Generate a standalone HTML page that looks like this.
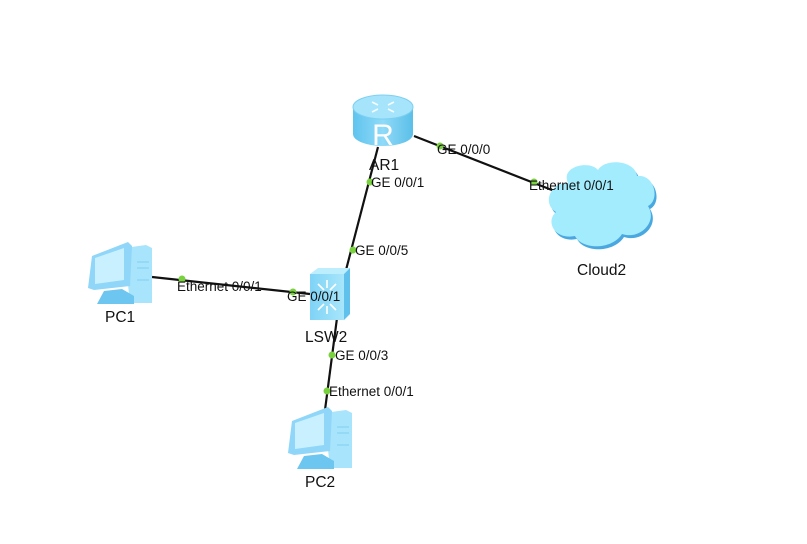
<!DOCTYPE html>
<html><head><meta charset="utf-8"><style>
html,body{margin:0;padding:0;background:#fff;}
svg{display:block}
text{font-family:"Liberation Sans",Arial,sans-serif;fill:#111;}
</style></head><body>
<svg width="807" height="544" viewBox="0 0 807 544" xmlns="http://www.w3.org/2000/svg">
<defs>
<linearGradient id="cyl" x1="0" x2="1"><stop offset="0" stop-color="#5fc4ee"/><stop offset="0.5" stop-color="#8fdaf8"/><stop offset="1" stop-color="#5bbfe8"/></linearGradient>
<linearGradient id="sw" x1="0" x2="1"><stop offset="0" stop-color="#7fd3f6"/><stop offset="1" stop-color="#a8e6fb"/></linearGradient>
</defs>
<g stroke="#111" stroke-width="2.2" fill="none">
<line x1="378" y1="147" x2="346" y2="270"/>
<line x1="414" y1="136" x2="557" y2="192"/>
<line x1="152" y1="277" x2="310" y2="294"/>
<line x1="337" y1="318" x2="325" y2="410"/>
</g>
<g>
<path d="M353 107 L353 134 A30 12 0 0 0 413 134 L413 107 Z" fill="url(#cyl)"/>
<ellipse cx="383" cy="107" rx="30" ry="12" fill="#a6e4fb" stroke="#7bd0f2"/>
<g stroke="#fff" stroke-width="1.6" fill="none" opacity="0.9">
<path d="M372 102 l6 3 M394 102 l-6 3 M372 112 l6 -3 M394 112 l-6 -3"/>
</g>
<text x="383" y="145" font-size="30" text-anchor="middle" style="fill:#fff">R</text>
</g>
<g>
<path d="M568 183 C560 166 590 160 598 170 C605 158 635 160 637 176 C655 174 660 200 648 206 C658 222 640 240 622 234 C612 250 582 250 575 236 C555 240 545 222 556 212 C542 204 550 182 568 183 Z" fill="#4aa8e0" transform="translate(2,3)"/>
<path d="M568 183 C560 166 590 160 598 170 C605 158 635 160 637 176 C655 174 660 200 648 206 C658 222 640 240 622 234 C612 250 582 250 575 236 C555 240 545 222 556 212 C542 204 550 182 568 183 Z" fill="#a3ecfe"/>
</g>
<g>
<path d="M310 274 L318 268 L350 268 L344 274 Z" fill="#bdeefe"/>
<path d="M344 274 L350 268 L350 314 L344 320 Z" fill="#5fc1ec"/>
<rect x="310" y="274" width="34" height="46" fill="url(#sw)"/>
<g stroke="#fff" stroke-width="1.6" fill="none">
<path d="M318 284 l6 6 M336 284 l-6 6 M318 310 l6 -6 M336 310 l-6 -6 M327 280 v8 M327 314 v-8"/>
</g>
</g>
<g id="pc">
<path d="M124 248 L146 245 L152 248 L152 303 L130 303 Z" fill="#a8e4fb"/>
<path d="M92 256 L128 242 L132 246 L130 286 L94 290 L88 288 Z" fill="#8fd6f8"/>
<path d="M95 258 L124 248 L124 280 L95 284 Z" fill="#c9f0ff"/>
<path d="M104 291 L122 289 L134 296 L134 304 L97 304 Z" fill="#6cc6ef"/>
<path d="M137 262 h12 M137 268 h12 M137 280 h12" stroke="#7fcff2" stroke-width="1"/>
</g>
<use href="#pc" transform="translate(200,165)"/>
<g fill="#7ad13f">
<circle cx="440" cy="146" r="3.5"/><circle cx="534" cy="182" r="3.5"/>
<circle cx="370" cy="182" r="3.5"/><circle cx="353" cy="250" r="3.5"/>
<circle cx="182" cy="279" r="3.5"/><circle cx="293" cy="292" r="3.5"/>
<circle cx="332" cy="355" r="3.5"/><circle cx="327" cy="391" r="3.5"/>
</g>
<g font-size="13.5">
<text x="437" y="154">GE 0/0/0</text>
<text x="529" y="190">Ethernet 0/0/1</text>
<text x="371" y="187">GE 0/0/1</text>
<text x="355" y="255">GE 0/0/5</text>
<text x="177" y="291">Ethernet 0/0/1</text>
<text x="287" y="301">GE 0/0/1</text>
<text x="335" y="360">GE 0/0/3</text>
<text x="329" y="396">Ethernet 0/0/1</text>
</g>
<g font-size="15.5">
<text x="369" y="170">AR1</text>
<text x="577" y="275">Cloud2</text>
<text x="305" y="342">LSW2</text>
<text x="105" y="322">PC1</text>
<text x="305" y="487">PC2</text>
</g>
</svg>
</body></html>
